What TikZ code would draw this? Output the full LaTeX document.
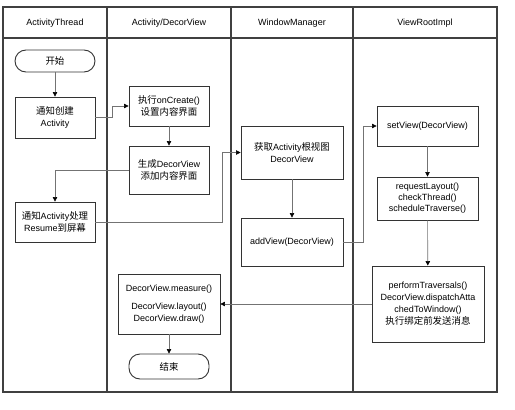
\documentclass[tikz,border=0pt]{standalone}
\usepackage{fontspec}
\setmainfont{Liberation Sans}
\newfontfamily\cjk[Scale=1.05]{Noto Sans CJK SC}
\newcommand{\zh}[1]{{\cjk #1}}
\usetikzlibrary{arrows.meta}
\usetikzlibrary{calc}
\tikzset{
    lane/.style={draw=black!75, line width=1.2pt},
    lanetitle/.style={font=\fontsize{9}{11}\selectfont},
    stepbox/.style={draw=black!80, line width=0.9pt, align=center, inner sep=1pt, font=\fontsize{9}{12}\selectfont},
    termbox/.style={stepbox, rounded corners=11pt},
    flow/.style={draw=black!55, line width=0.6pt, -{Triangle[length=4.5pt, width=4.5pt, color=black]}}
}
\begin{document}
\begin{tikzpicture}[x=1pt, y=-1pt]
    \useasboundingbox (0,0) rectangle (515,410);
    % swimlanes
    \draw [lane] (3,7) rectangle (497,392);
    \draw [lane] (3,38) -- (497,38);
    \draw [lane] (107,7) -- (107,392);
    \draw [lane] (231,7) -- (231,392);
    \draw [lane] (353,7) -- (353,392);
    \node [lanetitle] (T1) at (55,23)  {ActivityThread};
    \node [lanetitle] (T2) at (169,23) {Activity/DecorView};
    \node [lanetitle] (T3) at (292,23) {WindowManager};
    \node [lanetitle] (T4) at (425,23) {ViewRootImpl};
    % steps
    \node [termbox, minimum width=80pt, minimum height=22pt] (start) at (55,61) {\zh{开始}};
    \node [stepbox, minimum width=80pt, minimum height=41pt] (create) at (55,117.5) {\zh{通知创建}\\Activity};
    \node [stepbox, minimum width=80pt, minimum height=40pt] (oncreate) at (169,106) {\zh{执行}onCreate()\\\zh{设置内容界面}};
    \node [stepbox, minimum width=80pt, minimum height=48pt] (decor) at (169,170) {\zh{生成}DecorView\\\zh{添加内容界面}};
    \node [stepbox, minimum width=80pt, minimum height=40pt] (resume) at (55,222) {\zh{通知}Activity\zh{处理}\\Resume\zh{到屏幕}};
    \node [stepbox, minimum width=102pt, minimum height=53pt] (getroot) at (292,152.5) {\zh{获取}Activity\zh{根视图}\\DecorView};
    \node [stepbox, minimum width=102pt, minimum height=48pt] (addview) at (292,242) {addView(DecorView)};
    \node [stepbox, minimum width=101pt, minimum height=40pt] (setview) at (427.5,126) {setView(DecorView)};
    \node [stepbox, minimum width=101pt, minimum height=43pt] (request) at (427.5,198.5) {requestLayout()\\[-1pt]checkThread()\\[-1pt]scheduleTraverse()};
    \node [stepbox, minimum width=112pt, minimum height=76pt] (perform) at (428,304) {performTraversals()\\DecorView.dispatchAtta\\chedToWindow()\\\zh{执行绑定前发送消息}};
    \node [stepbox, minimum width=102pt, minimum height=60pt] (measure) at (169,304) {DecorView.measure()\\[6pt]DecorView.layout()\\DecorView.draw()};
    \node [termbox, minimum width=80pt, minimum height=25pt] (end) at (169,366.5) {\zh{结束}};
    % flow
    \draw [flow] (start) -- (create);
    \draw [flow] (create.east) -- ++(17,0) |- (oncreate.west);
    \draw [flow] (oncreate) -- (decor);
    \draw [flow] (decor.west) -| (resume.north);
    \draw [flow] (resume.east) -- ++(127,0) |- (getroot.west);
    \draw [flow] (getroot) -- (addview);
    \draw [flow] (addview.east) -- ++(20,0) |- (setview.west);
    \draw [flow] (setview) -- (request);
    \draw [flow] (request) -- (perform);
    \draw [flow] (perform.west) -- (measure.east);
    \draw [flow] (measure) -- (end);
\end{tikzpicture}
\end{document}
